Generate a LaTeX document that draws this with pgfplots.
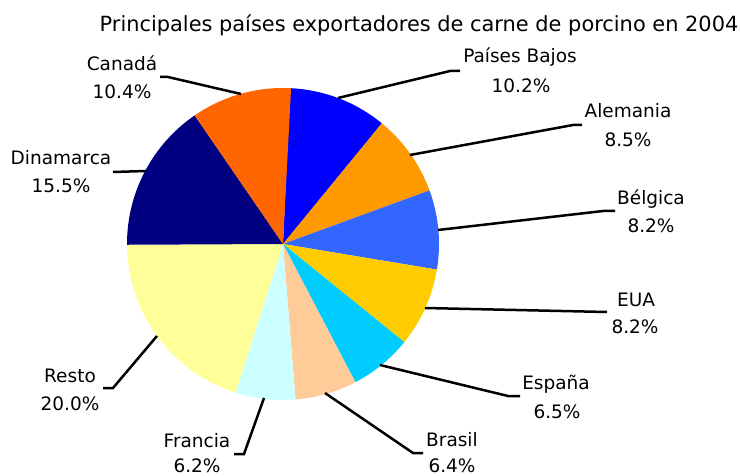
\documentclass[border=0pt]{standalone}
\usepackage{pgfplots}
\usepackage{pgfplotstable}
\pgfplotsset{compat=1.18}
\usepackage{fontspec}
\setmainfont{DejaVu Sans}
\definecolor{cPB}{HTML}{0000FF}
\definecolor{cAL}{HTML}{FF9900}
\definecolor{cBE}{HTML}{3366FF}
\definecolor{cUS}{HTML}{FFCC00}
\definecolor{cES}{HTML}{00CCFF}
\definecolor{cBR}{HTML}{FFCC99}
\definecolor{cFR}{HTML}{CCFFFF}
\definecolor{cRE}{HTML}{FFFF99}
\definecolor{cDK}{HTML}{000080}
\definecolor{cCA}{HTML}{FF6600}
\pgfplotstableread{
pct col
10.2 cPB
8.5 cAL
8.2 cBE
8.2 cUS
6.5 cES
6.4 cBR
6.2 cFR
20.0 cRE
15.5 cDK
10.4 cCA
}\pietable
\newcommand\lbl{\fontsize{18.5}{22}\selectfont}
\begin{document}
\begin{tikzpicture}
\begin{axis}[scale only axis, width=740pt, height=476pt,
  xmin=0, xmax=740, ymin=0, ymax=476, y dir=reverse,
  hide axis, clip=false]
\pgfmathsetmacro\cum{0}
\pgfplotsforeachungrouped \i in {0,...,9}{%
  \pgfplotstablegetelem{\i}{pct}\of\pietable \let\sP\pgfplotsretval
  \pgfplotstablegetelem{\i}{col}\of\pietable \let\sCol\pgfplotsretval
  \pgfmathsetmacro\sA{2.6+\cum*3.6}%
  \pgfmathsetmacro\sB{2.6+(\cum+\sP)*3.6}%
  \edef\tmp{\noexpand\addplot[fill=\sCol, draw=none, domain=\sA:\sB, samples=60]
     ({283+156*sin(x)},{244-156*cos(x)}) -- (axis cs:283,244) -- cycle;}%
  \tmp
  \pgfmathsetmacro\cum{\cum+\sP}%
}
% leader lines
\addplot[black, line width=2.5pt] coordinates {(160,77) (168,77) (241,94)};
\addplot[black, line width=2.5pt] coordinates {(113,172) (146,171)};
\addplot[black, line width=2.5pt] coordinates {(460,71) (450,71) (338,98)};
\addplot[black, line width=2.5pt] coordinates {(582,125) (573,125) (410,155)};
\addplot[black, line width=2.5pt] coordinates {(615,211) (603,211) (438,230)};
\addplot[black, line width=2.5pt] coordinates {(607,312) (425,308)};
\addplot[black, line width=2.5pt] coordinates {(520,396) (508,396) (380,365)};
\addplot[black, line width=2.5pt] coordinates {(423,453) (413,453) (325,393)};
\addplot[black, line width=2.5pt] coordinates {(103,388) (113,388) (157,336)};
\addplot[black, line width=2.5pt] coordinates {(234,454) (244,454) (264,398)};
% title
\node[anchor=base, font=\fontsize{20.9}{24}\selectfont] at (axis cs:419,32) {Principales países exportadores de carne de porcino en 2004};
% labels
\node[anchor=base, font=\lbl] at (axis cs:122,71) {Canadá};
\node[anchor=base, font=\lbl] at (axis cs:122,99) {10.4\%};
\node[anchor=base, font=\lbl] at (axis cs:61,165) {Dinamarca};
\node[anchor=base, font=\lbl] at (axis cs:61,193) {15.5\%};
\node[anchor=base, font=\lbl] at (axis cs:520,63) {Países Bajos};
\node[anchor=base, font=\lbl] at (axis cs:521,93) {10.2\%};
\node[anchor=base, font=\lbl] at (axis cs:628,118) {Alemania};
\node[anchor=base, font=\lbl] at (axis cs:628,147) {8.5\%};
\node[anchor=base, font=\lbl] at (axis cs:651,205) {Bélgica};
\node[anchor=base, font=\lbl] at (axis cs:651,233) {8.2\%};
\node[anchor=base, font=\lbl] at (axis cs:636,306) {EUA};
\node[anchor=base, font=\lbl] at (axis cs:635,334) {8.2\%};
\node[anchor=base, font=\lbl] at (axis cs:556,389) {España};
\node[anchor=base, font=\lbl] at (axis cs:557,418) {6.5\%};
\node[anchor=base, font=\lbl] at (axis cs:452,446) {Brasil};
\node[anchor=base, font=\lbl] at (axis cs:452,472) {6.4\%};
\node[anchor=base, font=\lbl] at (axis cs:70,382) {Resto};
\node[anchor=base, font=\lbl] at (axis cs:70,410) {20.0\%};
\node[anchor=base, font=\lbl] at (axis cs:197,447) {Francia};
\node[anchor=base, font=\lbl] at (axis cs:197,472) {6.2\%};
\end{axis}
\pgfresetboundingbox
\path (current axis.south west) rectangle (current axis.north east);
\end{tikzpicture}
\end{document}
